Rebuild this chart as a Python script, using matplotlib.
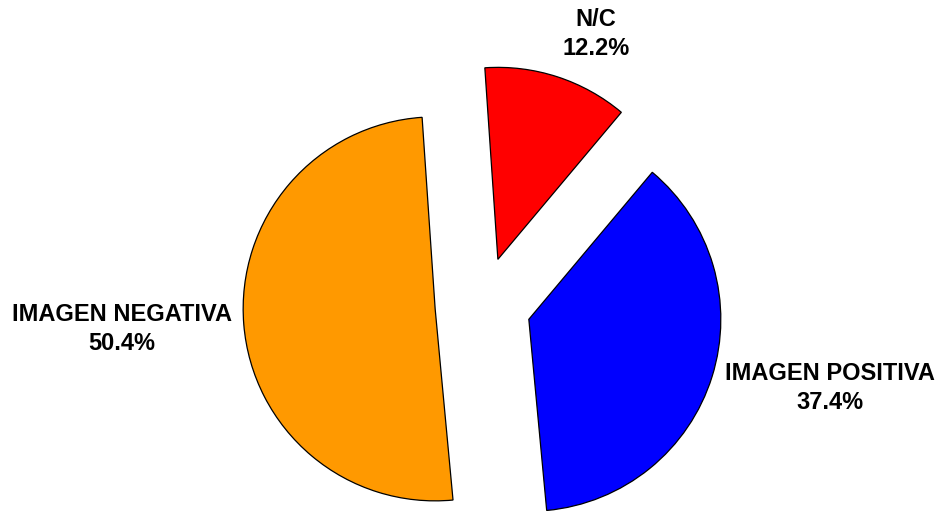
import numpy as np
import matplotlib.pyplot as plt

# datos
labels = ['N/C', 'IMAGEN POSITIVA', 'IMAGEN NEGATIVA']
values = [12.2, 37.4, 50.4]
colors = ['#FF0000', '#0000FF', '#FF9900']

# posiciones de etiquetas (en radios del pie)
lbl_x = [0.589, 1.807, -1.880]
lbl_y = [1.412, -0.432, -0.125]

fig = plt.figure(figsize=(9.43, 5.11), dpi=100)
ax = fig.add_axes([0, 0, 1, 1])

ax.pie(values, colors=colors, startangle=93.9, counterclock=False,
       explode=[0.25] * 3, radius=1,
       wedgeprops=dict(edgecolor='black', linewidth=0.9))

# centro del pie en (483, 305) px, radio 192 px
r_px = 192.0
ax.set_xlim(-483 / r_px, (943 - 483) / r_px)
ax.set_ylim((305 - 511) / r_px, 305 / r_px)
ax.set_aspect('auto')
ax.axis('off')

for lbl, v, x, y in zip(labels, values, lbl_x, lbl_y):
    ax.text(x, y, f'{lbl}\n{v:.1f}%', ha='center', va='center',
            fontsize=17, fontweight='bold', family='Liberation Sans',
            linespacing=1.32)

fig.savefig('out.png', dpi=100)
